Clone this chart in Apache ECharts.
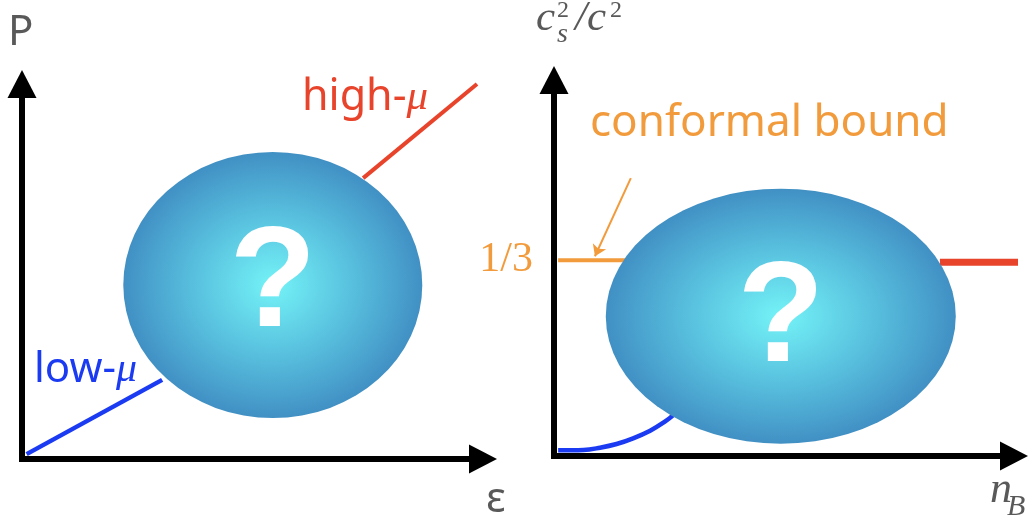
<!DOCTYPE html>
<html>
<head>
<meta charset="utf-8">
<script src="https://cdn.jsdelivr.net/npm/echarts@6/dist/echarts.min.js"></script>
<style>
  html, body { margin: 0; padding: 0; background: #fff; }
  #chart { width: 1033px; height: 521px; }
</style>
</head>
<body>
<div id="chart"></div>
<script>
// left panel: P vs epsilon, schematic units 0-10
var lowMuLine = [[0.1, 0.13], [3.04, 2.11]]
var highMuLine = [[7.4, 7.49], [9.87, 10.0]]
var eosBlob = [[5.44, 4.64]]

// right panel: cs^2/c^2 vs n_B
var conformalBound = 1 / 3
var boundTickLabels = ['1/3']
var boundLine = [[0.09, conformalBound], [3.0, conformalBound]]
var lowDensityCurve = [[0.09, 0.0097], [0.64, 0.0102], [1.0, 0.0141], [1.36, 0.0204], [1.72, 0.0301], [2.09, 0.0431], [2.41, 0.0584], [2.6, 0.07]]
var highDensityLine = [[8.39, 0.33], [10.41, 0.33]]
var soundBlob = [[4.93, 0.238]]
var boundArrow = [[1.67, 0.473], [0.89, 0.340]]

var RED = '#E8432B'
var BLUE = '#1B3BF2'
var ORANGE = '#F29B3C'
var GRAY = '#595959'
var SANS = 'Noto Sans'
var SERIF = 'Liberation Serif'

var ellipse = 'path://M0,50A50,50,0,1,1,100,50A50,50,0,1,1,0,50Z'
var blobColor = {
  type: 'radial', x: 0.5, y: 0.5, r: 0.5,
  colorStops: [
    { offset: 0, color: '#74F3F7' },
    { offset: 0.55, color: '#57BEDD' },
    { offset: 1, color: '#4190C4' }
  ]
}

function questionLabel (dy) {
  return {
    show: true, position: 'inside', formatter: '?', offset: [0, dy],
    color: '#fff', fontSize: 142, fontWeight: 'bold', fontFamily: 'Liberation Sans'
  }
}

function arrowAxis (gridIndex, max, extra) {
  var axis = {
    type: 'value',
    gridIndex: gridIndex,
    min: 0,
    max: max,
    splitLine: { show: false },
    axisTick: { show: false },
    axisLabel: { show: false },
    axisLine: {
      show: true,
      symbol: ['none', 'triangle'],
      symbolSize: [29, 28],
      lineStyle: { color: '#000', width: 6, cap: 'square' }
    }
  }
  return Object.assign(axis, extra || {})
}

function txt (x, y, text, size, color, family, style) {
  return {
    type: 'text', x: x, y: y, silent: true,
    style: {
      text: text, fill: color, fontSize: size, fontFamily: family,
      fontStyle: style || 'normal', textAlign: 'left', textVerticalAlign: 'middle'
    }
  }
}

var chart = echarts.init(document.getElementById('chart'))
chart.setOption({
  animation: false,
  grid: [
    { left: 22, top: 84, width: 461, height: 375 },
    { left: 554, top: 80, width: 460, height: 376 }
  ],
  xAxis: [
    arrowAxis(0, 10),
    arrowAxis(1, 10)
  ],
  yAxis: [
    arrowAxis(0, 10),
    arrowAxis(1, 0.64, {
      axisLabel: {
        show: true,
        customValues: [conformalBound],
        formatter: function () { return boundTickLabels[0] },
        color: ORANGE, fontSize: 42, fontFamily: SERIF, margin: 21
      }
    })
  ],
  series: [
    {
      type: 'line', xAxisIndex: 0, yAxisIndex: 0, data: lowMuLine,
      symbol: 'none', clip: false, z: 2,
      lineStyle: { color: BLUE, width: 4.5 }
    },
    {
      type: 'line', xAxisIndex: 0, yAxisIndex: 0, data: highMuLine,
      symbol: 'none', clip: false, z: 2,
      lineStyle: { color: RED, width: 4 }
    },
    {
      type: 'scatter', xAxisIndex: 0, yAxisIndex: 0, data: eosBlob,
      symbol: ellipse, symbolSize: [299, 266], z: 5, silent: true,
      itemStyle: { color: blobColor, opacity: 1 },
      label: questionLabel(2)
    },
    {
      type: 'line', xAxisIndex: 1, yAxisIndex: 1, data: boundLine,
      symbol: 'none', clip: false, z: 2,
      lineStyle: { color: ORANGE, width: 4 },
      markLine: {
        silent: true,
        symbol: ['none', 'arrow'],
        symbolSize: 11,
        label: { show: false },
        lineStyle: { color: ORANGE, width: 2, type: 'solid' },
        data: [[{ coord: boundArrow[0] }, { coord: boundArrow[1] }]]
      }
    },
    {
      type: 'line', xAxisIndex: 1, yAxisIndex: 1, data: lowDensityCurve,
      symbol: 'none', clip: false, smooth: 0.4, z: 2,
      lineStyle: { color: BLUE, width: 4.5 }
    },
    {
      type: 'line', xAxisIndex: 1, yAxisIndex: 1, data: highDensityLine,
      symbol: 'none', clip: false, z: 2,
      lineStyle: { color: RED, width: 7 }
    },
    {
      type: 'scatter', xAxisIndex: 1, yAxisIndex: 1, data: soundBlob,
      symbol: ellipse, symbolSize: [350, 255], z: 5, silent: true,
      itemStyle: { color: blobColor, opacity: 1 },
      label: questionLabel(6)
    }
  ],
  graphic: [
    txt(8, 33, 'P', 42, GRAY, SANS),
    txt(486, 500, 'ε', 42, GRAY, SANS),
    {
      type: 'text', x: 302, y: 98, silent: true,
      style: {
        text: '{a|high-}{m|μ}', textAlign: 'left', textVerticalAlign: 'middle',
        rich: {
          a: { fontSize: 43, fontFamily: SANS, fill: RED, color: RED },
          m: { fontSize: 43, fontFamily: SERIF, fontStyle: 'italic', fill: RED, color: RED }
        }
      }
    },
    {
      type: 'text', x: 34, y: 370, silent: true,
      style: {
        text: '{a|low-}{m|μ}', textAlign: 'left', textVerticalAlign: 'middle',
        rich: {
          a: { fontSize: 42, fontFamily: SANS, fill: BLUE, color: BLUE },
          m: { fontSize: 42, fontFamily: SERIF, fontStyle: 'italic', fill: BLUE, color: BLUE }
        }
      }
    },
    txt(590, 123, 'conformal bound', 44, ORANGE, SANS),
    // c_s^2 / c^2
    txt(536, 19, 'c', 43, GRAY, SERIF, 'italic'),
    txt(557, 11, '2', 24, GRAY, SERIF),
    txt(557, 35, 's', 28, GRAY, SERIF, 'italic'),
    txt(575, 19, '/c', 43, GRAY, SERIF, 'italic'),
    txt(610, 11, '2', 24, GRAY, SERIF),
    // n_B
    txt(990, 490, 'n', 44, GRAY, SERIF, 'italic'),
    txt(1007, 507, 'B', 30, GRAY, SERIF, 'italic')
  ]
})
window.addEventListener('resize', chart.resize)
</script>
</body>
</html>
